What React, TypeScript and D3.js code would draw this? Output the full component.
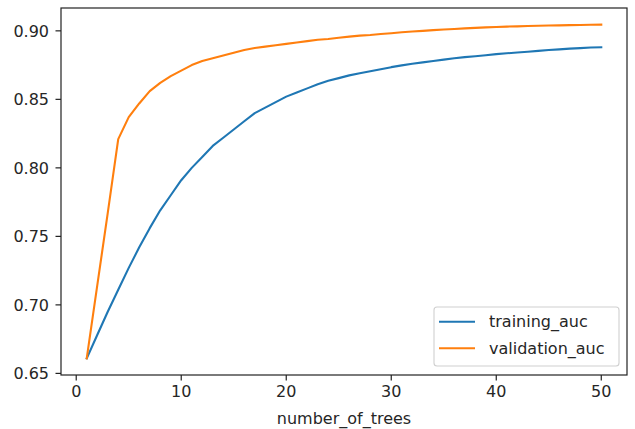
import React from "react";
import * as d3 from "d3";

const trees: number[] = d3.range(1, 51);
const trainingAuc: number[] = [
  0.661, 0.678, 0.695, 0.711, 0.727, 0.742, 0.756, 0.769, 0.780, 0.791,
  0.800, 0.808, 0.816, 0.822, 0.828, 0.834, 0.840, 0.844, 0.848, 0.852,
  0.855, 0.858, 0.861, 0.8635, 0.8655, 0.8675, 0.869, 0.8705, 0.872, 0.8735,
  0.8748, 0.876, 0.877, 0.878, 0.879, 0.880, 0.8808, 0.8815, 0.8822, 0.883,
  0.8836, 0.8842, 0.8848, 0.8854, 0.886, 0.8865, 0.887, 0.8874, 0.8878, 0.888,
];
const validationAuc: number[] = [
  0.661, 0.714, 0.767, 0.821, 0.837, 0.847, 0.856, 0.862, 0.867, 0.871,
  0.875, 0.878, 0.880, 0.882, 0.884, 0.886, 0.8875, 0.8885, 0.8895, 0.8905,
  0.8915, 0.8925, 0.8935, 0.894, 0.895, 0.8958, 0.8965, 0.897, 0.8977, 0.8983,
  0.899, 0.8995, 0.900, 0.9005, 0.901, 0.9014, 0.9018, 0.9022, 0.9025, 0.9028,
  0.9031, 0.9033, 0.9035, 0.9037, 0.9039, 0.904, 0.9042, 0.9043, 0.9044, 0.9045,
];
const xTicks: number[] = [0, 10, 20, 30, 40, 50];
const yTicks: number[] = [0.65, 0.7, 0.75, 0.8, 0.85, 0.9];
const seriesNames: string[] = ["training_auc", "validation_auc"];
const seriesColors: string[] = ["#1f77b4", "#ff7f0e"];

const W = 635;
const H = 429;
const left = 61;
const right = 627;
const top = 8;
const bottom = 375;
const FONT = "'DejaVu Sans', sans-serif";
const FS = 16;

export default function App() {
  const xMin = d3.min(trees)!;
  const xMax = d3.max(trees)!;
  const xm = (xMax - xMin) * 0.05;
  const all = trainingAuc.concat(validationAuc);
  const yMin = d3.min(all)!;
  const yMax = d3.max(all)!;
  const ym = (yMax - yMin) * 0.05;
  const x = d3.scaleLinear().domain([xMin - xm, xMax + xm]).range([left, right]);
  const y = d3.scaleLinear().domain([yMin - ym, yMax + ym]).range([bottom, top]);
  const series = [trainingAuc, validationAuc];
  const line = (vals: number[]) =>
    d3.line<number>().x((_, i) => x(trees[i])).y((v) => y(v))(vals) || "";

  const lgX = 434, lgY = 307, lgW = 185, lgH = 59;

  return (
    <svg width={W} height={H} style={{ position: "absolute", left: 0, top: 0, background: "#fff" }} fontFamily={FONT}>
      <rect x={0} y={0} width={W} height={H} fill="#fff" />
      <clipPath id="plot">
        <rect x={left} y={top} width={right - left} height={bottom - top} />
      </clipPath>
      <g clipPath="url(#plot)">
        {series.map((s, i) => (
          <path key={i} d={line(s)} fill="none" stroke={seriesColors[i]} strokeWidth={2.1} strokeLinejoin="round" strokeLinecap="square" />
        ))}
      </g>
      <rect x={left} y={top} width={right - left} height={bottom - top} fill="none" stroke="#222" strokeWidth={1.2} />
      {xTicks.map((t) => (
        <g key={t}>
          <line x1={x(t)} x2={x(t)} y1={bottom} y2={bottom + 5.5} stroke="#222" strokeWidth={1.2} />
          <text x={x(t)} y={bottom + 21.5} textAnchor="middle" fontSize={FS} fill="#262626">{t}</text>
        </g>
      ))}
      {yTicks.map((t) => (
        <g key={t}>
          <line x1={left - 5.5} x2={left} y1={y(t)} y2={y(t)} stroke="#222" strokeWidth={1.2} />
          <text x={left - 12} y={y(t)} dy="0.36em" textAnchor="end" fontSize={FS} fill="#262626">{t.toFixed(2)}</text>
        </g>
      ))}
      <text x={(left + right) / 2} y={424} textAnchor="middle" fontSize={FS} fill="#262626">number_of_trees</text>
      <rect x={lgX} y={lgY} width={lgW} height={lgH} rx={3} fill="#fff" fillOpacity={0.8} stroke="#d0d0d0" strokeWidth={1.1} />
      {seriesNames.map((n, i) => (
        <g key={n}>
          <line x1={439} x2={475} y1={321.7 + i * 26.6} y2={321.7 + i * 26.6} stroke={seriesColors[i]} strokeWidth={2.1} />
          <text x={489} y={321.7 + i * 26.6} dy="0.36em" fontSize={FS} fill="#262626">{n}</text>
        </g>
      ))}
    </svg>
  );
}
